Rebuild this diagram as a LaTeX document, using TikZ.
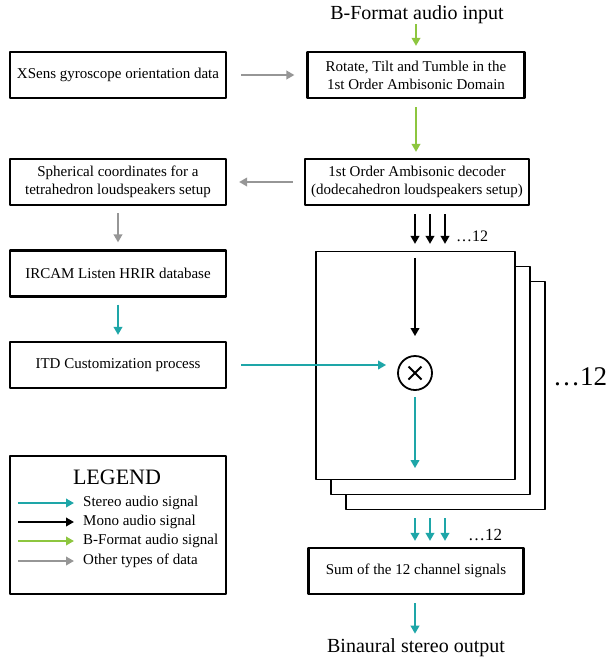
\documentclass[tikz,border=0pt]{standalone}
\usepackage{fontspec}
\setmainfont{Liberation Serif}
\usetikzlibrary{arrows.meta,calc}
\definecolor{stereoc}{RGB}{30,166,168}
\definecolor{bfmtc}{RGB}{141,198,63}
\definecolor{otherc}{RGB}{150,150,150}
\tikzset{
  box/.style={draw, line width=2.2pt, minimum width=216pt, minimum height=46pt, inner sep=0pt, align=center, font=\fontsize{15}{18}\selectfont},
  card/.style={draw, fill=white, line width=1.2pt, minimum width=199pt, minimum height=228pt, inner sep=0pt},
  sig/.style={line width=2.6pt, -{Triangle[length=8pt,width=8.5pt]}},
  stereo/.style={sig, stereoc},
  mono/.style={sig, black},
  bfmt/.style={sig, bfmtc},
  other/.style={sig, otherc},
  big/.style={inner sep=0pt, font=\fontsize{20}{24}\selectfont}
}
\begin{document}
\begin{tikzpicture}[x=1pt, y=-1pt, line join=round]
	\useasboundingbox (0,0) rectangle (613,659);
	% main column
	\node[big] (in) at (417,15) {B-Format audio input};
	\node[box, minimum width=217pt] (rot) at (416,75) {Rotate, Tilt and Tumble in the\\1st Order Ambisonic Domain};
	\node[box, minimum width=224pt] (dec) at (417,182) {1st Order Ambisonic decoder\\(dodecahedron loudspeakers setup)};
	\node[card] (card3) at (445.5,395.5) {};
	\node[card] (card2) at (430.5,380.5) {};
	\node[card] (card1) at (415.5,365.5) {};
	\node[draw, circle, line width=1.8pt, minimum size=34pt, inner sep=0pt,
	      path picture={\draw[line width=1.8pt] ([shift={(-6.5,-6.5)}]path picture bounding box.center) -- ([shift={(6.5,6.5)}]path picture bounding box.center)
	                    ([shift={(-6.5,6.5)}]path picture bounding box.center) -- ([shift={(6.5,-6.5)}]path picture bounding box.center);}]
	      (mult) at (415,373) {};
	\node[box, minimum width=215pt] (sum) at (416,571) {Sum of the 12 channel signals};
	\node[big] (out) at (416,648) {Binaural stereo output};
	\node[anchor=west, inner sep=0pt, font=\fontsize{16}{18}\selectfont] (n1) at (456,236) {…12};
	\node[anchor=west, inner sep=0pt, font=\fontsize{27}{30}\selectfont] (n2) at (553,377) {…12};
	\node[anchor=west, inner sep=0pt, font=\fontsize{17}{18}\selectfont] (n3) at (468,535) {…12};
	% left column
	\node[box] (xs) at (118,75) {XSens gyroscope orientation data};
	\node[box] (sph) at (118,182) {Spherical coordinates for a\\tetrahedron loudspeakers setup};
	\node[box] (irc) at (118,273.5) {IRCAM Listen HRIR database};
	\node[box] (itd) at (118,365) {ITD Customization process};
	% legend
	\node[box, minimum height=138pt] (leg) at (118,525) {};
	\node[inner sep=0pt, font=\fontsize{22}{24}\selectfont] (legt) at (117,477) {LEGEND};
	\foreach \y/\s/\t [count=\i] in {503/stereo/Stereo audio signal, 522/mono/Mono audio signal, 541/bfmt/B-Format audio signal, 561/other/Other types of data}{
		\node[anchor=west, inner sep=0pt, font=\fontsize{15}{18}\selectfont] (leg\i) at (83,\y) {\t};
		\draw[\s] (18,\y) coordinate (lstart\i) -- (74,\y);
	}
	% connectors
	\draw[bfmt, shorten >=5pt] (rot.north |- in.south) -- (rot.north);
	\draw[bfmt, shorten <=8pt, shorten >=6pt] (rot.south) -- (rot.south |- dec.north);
	\draw[other, shorten <=14pt, shorten >=12pt] (xs.east) -- (rot.west);
	\draw[other, shorten <=11pt, shorten >=12pt] (dec.west) -- (sph.east);
	\draw[other, shorten <=7pt, shorten >=7pt] (sph.south) -- (irc.north);
	\draw[stereo, shorten <=7pt, shorten >=6pt] (irc.south) -- (itd.north);
	\draw[stereo, shorten <=14pt, shorten >=11pt] (itd.east) -- (itd.east -| mult.west);
	\foreach \dx in {0,15,30}{
		\draw[mono, shorten <=8pt, shorten >=7pt] ([xshift=\dx pt]mult.north |- dec.south) -- ([xshift=\dx pt]mult.north |- card1.north);
		\draw[stereo, shorten <=8pt, shorten >=6pt] ([xshift=\dx pt]mult.south |- card3.south) -- ([xshift=\dx pt]mult.south |- sum.north);
	}
	\draw[mono, shorten <=7pt, shorten >=19pt] (mult.north |- card1.north) -- (mult.north);
	\draw[stereo, shorten <=6pt, shorten >=12pt] (mult.south) -- (mult.south |- card1.south);
	\draw[stereo, shorten <=8pt, shorten >=5pt] (mult.south |- sum.south) -- (mult.south |- out.north);
\end{tikzpicture}
\end{document}
